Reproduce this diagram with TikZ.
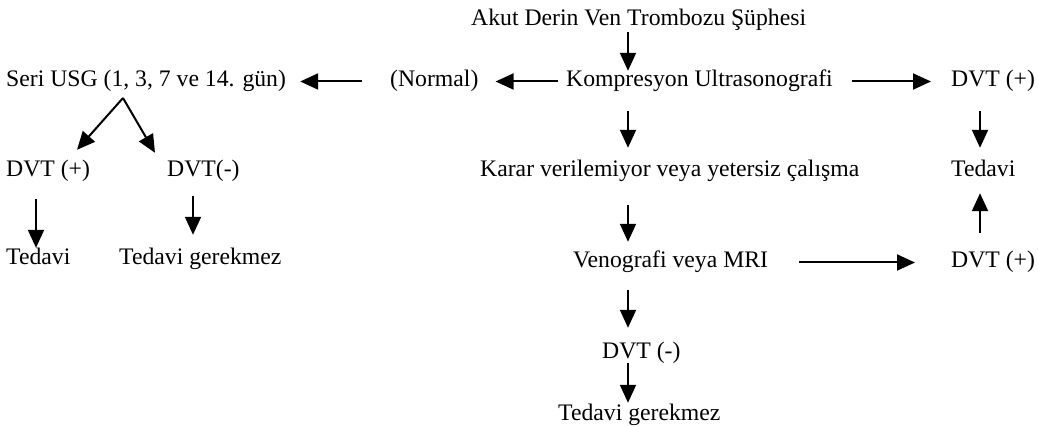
\documentclass[tikz,border=0pt]{standalone}
\usepackage{fontspec}
\setmainfont{Liberation Serif}
\usetikzlibrary{arrows.meta,calc}
\begin{document}
\begin{tikzpicture}[x=1pt,y=-1pt,
  txt/.style={anchor=base west, inner sep=0pt, text height=16pt, text depth=5pt,
              font=\fontsize{23.7}{28}\selectfont},
  arr/.style={line width=2pt, -{Triangle[length=18pt,width=16pt]}}]
\useasboundingbox (0,0) rectangle (1038,427);
% column guides
\coordinate (cM) at (628,0);
\coordinate (cR) at (980,0);
\coordinate (cL1) at (36,0);
\coordinate (cL2) at (193,0);
% texts
\node[txt] (akut)  at (471,26)  {Akut Derin Ven Trombozu Şüphesi};
\node[txt] (seri)  at (6,87)    {Seri USG (1, 3, 7 ve 14. gün)};
\node[txt] (normal) at (390,87) {(Normal)};
\node[txt] (komp)  at (566,87)  {Kompresyon Ultrasonografi};
\node[txt] (dvtRa) at (951,87)  {DVT (+)};
\node[txt] (dvtLp) at (6,177)   {DVT (+)};
\node[txt] (dvtLm) at (167,177) {DVT(-)};
\node[txt] (karar) at (480,177) {Karar verilemiyor veya yetersiz çalışma};
\node[txt] (tedR)  at (951,177) {Tedavi};
\node[txt] (tedL)  at (6,265)   {Tedavi};
\node[txt] (tgL)   at (119,265) {Tedavi gerekmez};
\node[txt] (veno)  at (573,268) {Venografi veya MRI};
\node[txt] (dvtRb) at (951,268) {DVT (+)};
\node[txt] (dvtm)  at (602,358) {DVT (-)};
\node[txt] (tg)    at (558,420) {Tedavi gerekmez};
% connectors
\draw[arr, shorten <=1pt] (akut.south -| cM) -- (komp.north -| cM);
\draw[arr, shorten <=8pt, shorten >=17pt] (komp.west) -- (normal.east);
\draw[arr, shorten <=28pt, shorten >=14pt] (normal.west) -- (seri.east);
\draw[arr, shorten <=19pt, shorten >=20pt] (komp.east) -- (dvtRa.west);
\draw[arr, shorten <=19pt, shorten >=13pt] (komp.south -| cM) -- (karar.north -| cM);
\draw[arr, shorten <=19pt, shorten >=13pt] (dvtRa.south -| cR) -- (tedR.north -| cR);
\draw[arr, shorten <=19pt, shorten >=11pt] (dvtRb.north -| cR) -- (tedR.south -| cR);
\draw[arr, shorten <=23pt, shorten >=10pt] (karar.south -| cM) -- (veno.north -| cM);
\draw[arr, shorten <=31pt, shorten >=36pt] (veno.east) -- (dvtRb.west);
\draw[arr, shorten <=17pt, shorten >=14pt] (veno.south -| cM) -- (dvtm.north -| cM);
\draw[arr, shorten >=1pt] (dvtm.south -| cM) -- (tg.north -| cM);
\draw[arr, shorten <=17pt, shorten >=1pt] (dvtLp.south -| cL1) -- (tedL.north -| cL1);
\draw[arr, shorten <=14pt, shorten >=14pt] (dvtLm.south -| cL2) -- (tgL.north -| cL2);
\coordinate (apex) at ($(seri.base west)+(117,11)$);
\draw[arr] (apex) -- ($(dvtLp.north west)+(71,-11)$);
\draw[arr] (apex) -- ($(dvtLm.north west)+(-12,-8)$);
\end{tikzpicture}
\end{document}
